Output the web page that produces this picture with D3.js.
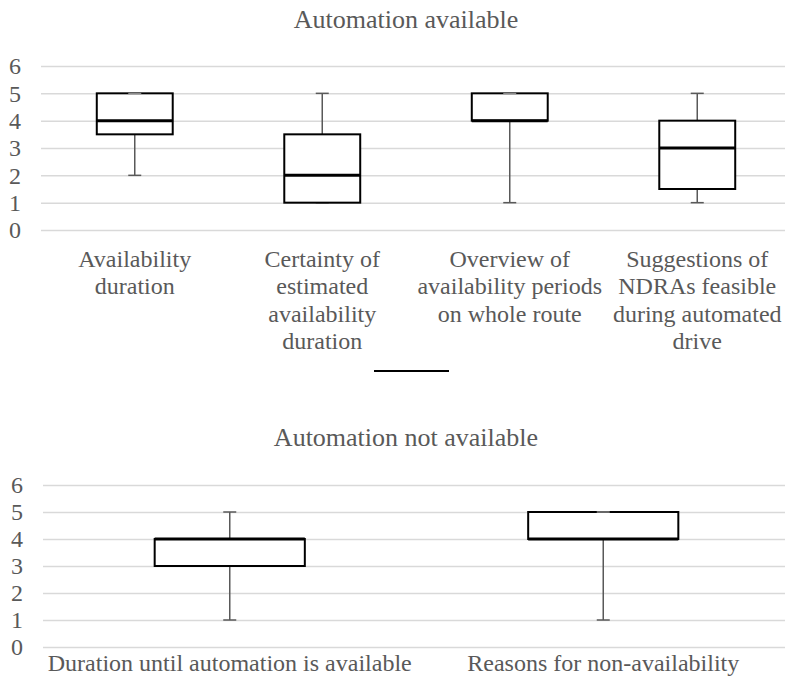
<!DOCTYPE html>
<html>
<head>
<meta charset="utf-8">
<script src="https://cdn.jsdelivr.net/npm/d3@7"></script>
<style>
  body { margin: 0; background: #fff; }
  svg text { font-family: "Liberation Serif", "Times New Roman", serif; fill: #595959; }
</style>
</head>
<body>
<svg id="chart" width="785" height="691"></svg>
<script>
// top panel: automation available
const topCategories = ["Availability duration", "Certainty of estimated availability duration",
    "Overview of availability periods on whole route", "Suggestions of NDRAs feasible during automated drive"];
const topLabelLines = [
    ["Availability", "duration"],
    ["Certainty of", "estimated", "availability", "duration"],
    ["Overview of", "availability periods", "on whole route"],
    ["Suggestions of", "NDRAs feasible", "during automated", "drive"]
];
const topMin = [2, 1, 1, 1];
const topQ1 = [3.5, 1, 4, 1.5];
const topMedian = [4, 2, 4, 3];
const topQ3 = [5, 3.5, 5, 4];
const topMax = [5, 5, 5, 5];

// bottom panel: automation not available
const bottomCategories = ["Duration until automation is available", "Reasons for non-availability"];
const bottomLabelLines = [["Duration until automation is available"], ["Reasons for non-availability"]];
const bottomMin = [1, 1];
const bottomQ1 = [3, 4];
const bottomMedian = [4, 4];
const bottomQ3 = [4, 5];
const bottomMax = [5, 5];

const yTicks = [0, 1, 2, 3, 4, 5, 6];

const svg = d3.select("#chart");
const W = 785;

const drawPanel = (opts) => {
    const { title, titleY, cats, lines, mins, q1s, meds, q3s, maxs,
        yTop, yBottom, xLeft, xRight, boxFrac, labelY } = opts;

    const y = d3.scaleLinear().domain([0, 6]).range([yBottom, yTop]);
    const x = d3.scaleBand().domain(cats).range([xLeft, xRight]).padding(0);
    const boxW = x.bandwidth() * boxFrac;
    const g = svg.append("g");

    g.append("text")
        .attr("x", 406).attr("y", titleY)
        .attr("text-anchor", "middle")
        .style("font-size", "26px")
        .text(title);

    // gridlines + tick labels
    const yAxis = d3.axisLeft(y)
        .tickValues(yTicks)
        .tickFormat(d3.format("d"))
        .tickSize(-(W - xLeft))
        .tickPadding(20);
    const ax = g.append("g").attr("transform", `translate(${xLeft},0)`).call(yAxis);
    ax.select(".domain").remove();
    ax.selectAll("line").attr("stroke", "#d9d9d9").attr("stroke-width", 1.5);
    ax.selectAll("text")
        .attr("x", -20)
        .style("font-size", "24px")
        .attr("fill", "#595959");

    const data = cats.map((c, i) => ({ c, min: mins[i], q1: q1s[i], med: meds[i], q3: q3s[i], max: maxs[i], lines: lines[i] }));
    const cx = d => x(d.c) + x.bandwidth() / 2;

    // whiskers
    const wh = g.append("g").attr("stroke", "#595959").attr("stroke-width", 1.5);
    wh.selectAll(".wlo").data(data).enter().append("line")
        .attr("x1", cx).attr("x2", cx)
        .attr("y1", d => y(d.q1)).attr("y2", d => y(d.min));
    wh.selectAll(".whi").data(data).enter().append("line")
        .attr("x1", cx).attr("x2", cx)
        .attr("y1", d => y(d.q3)).attr("y2", d => y(d.max));
    wh.selectAll(".clo").data(data).enter().append("line")
        .attr("x1", d => cx(d) - 6.5).attr("x2", d => cx(d) + 6.5)
        .attr("y1", d => y(d.min)).attr("y2", d => y(d.min));
    wh.selectAll(".chi").data(data).enter().append("line")
        .attr("x1", d => cx(d) - 6.5).attr("x2", d => cx(d) + 6.5)
        .attr("y1", d => y(d.max)).attr("y2", d => y(d.max));

    // boxes
    g.selectAll(".box").data(data).enter().append("rect")
        .attr("x", d => cx(d) - boxW / 2)
        .attr("y", d => y(d.q3))
        .attr("width", boxW)
        .attr("height", d => y(d.q1) - y(d.q3))
        .attr("fill", "#fff")
        .attr("stroke", "#000")
        .attr("stroke-width", 2);

    // whisker cap shows over the box edge when max == q3
    g.selectAll(".cap2").data(data.filter(d => d.max === d.q3)).enter().append("line")
        .attr("x1", d => cx(d) - 6.5).attr("x2", d => cx(d) + 6.5)
        .attr("y1", d => y(d.max)).attr("y2", d => y(d.max))
        .attr("stroke", "#8a8a8a").attr("stroke-width", 1.5);

    g.selectAll(".med").data(data).enter().append("line")
        .attr("x1", d => cx(d) - boxW / 2).attr("x2", d => cx(d) + boxW / 2)
        .attr("y1", d => y(d.med)).attr("y2", d => y(d.med))
        .attr("stroke", "#000").attr("stroke-width", 3);

    // category labels
    const lbl = g.selectAll(".lbl").data(data).enter().append("text")
        .attr("text-anchor", "middle")
        .style("font-size", "24px")
        .attr("x", cx)
        .attr("y", labelY);
    lbl.selectAll("tspan").data(d => d.lines.map(t => ({ t, x: cx(d) }))).enter().append("tspan")
        .attr("x", d => d.x)
        .attr("dy", (d, i) => i === 0 ? 0 : 27.3)
        .text(d => d.t);
};

drawPanel({
    title: "Automation available", titleY: 28,
    cats: topCategories, lines: topLabelLines,
    mins: topMin, q1s: topQ1, meds: topMedian, q3s: topQ3, maxs: topMax,
    yTop: 66, yBottom: 230, xLeft: 41, xRight: 791, boxFrac: 0.405, labelY: 267
});

drawPanel({
    title: "Automation not available", titleY: 446,
    cats: bottomCategories, lines: bottomLabelLines,
    mins: bottomMin, q1s: bottomQ1, meds: bottomMedian, q3s: bottomQ3, maxs: bottomMax,
    yTop: 485, yBottom: 647, xLeft: 43, xRight: 790, boxFrac: 0.402, labelY: 671
});

// legend marker (unlabelled series line)
svg.append("line")
    .attr("x1", 374).attr("x2", 449)
    .attr("y1", 371).attr("y2", 371)
    .attr("stroke", "#000").attr("stroke-width", 2);
</script>
</body>
</html>
